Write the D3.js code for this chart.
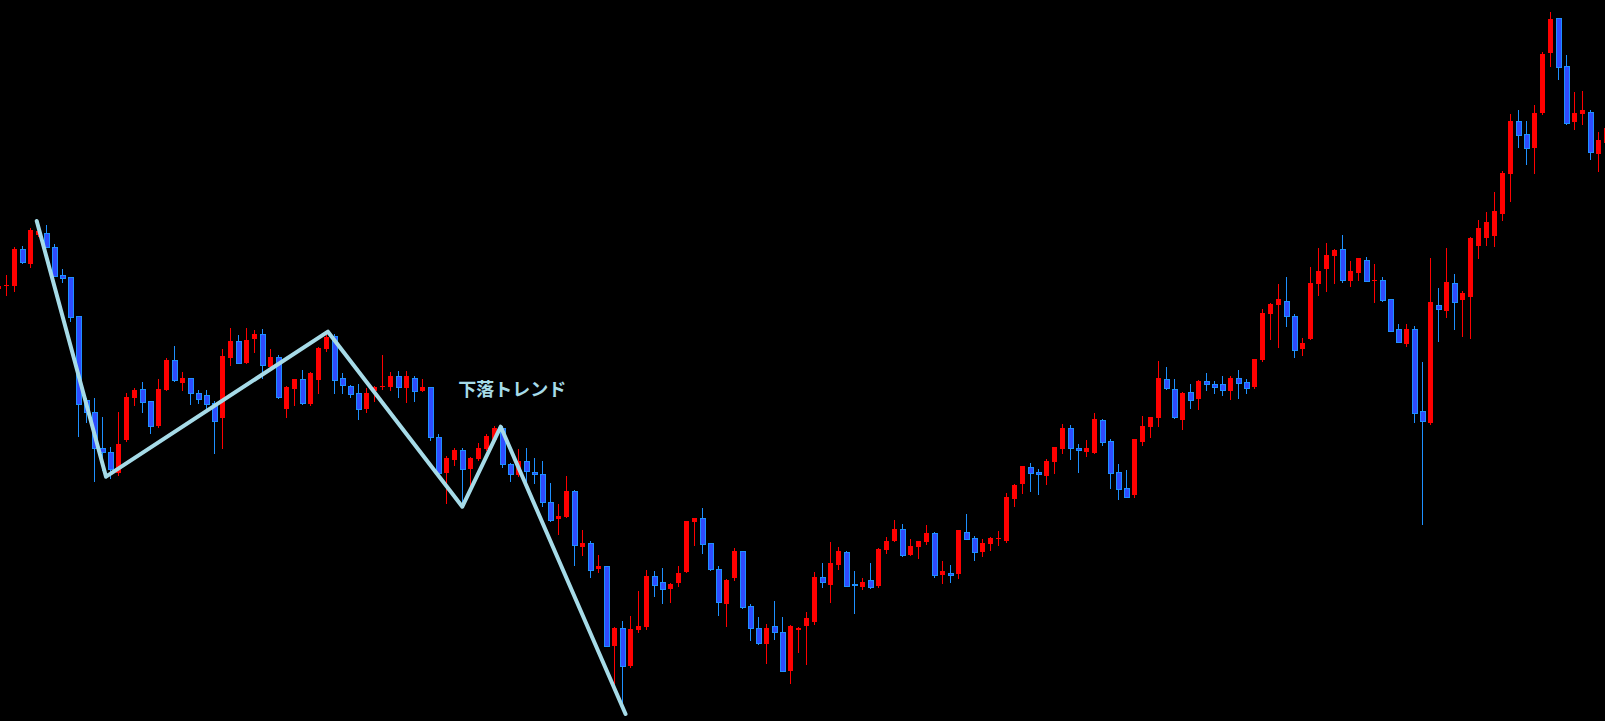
<!DOCTYPE html>
<html>
<head>
<meta charset="utf-8">
<script src="https://cdn.jsdelivr.net/npm/d3@7/dist/d3.min.js"></script>
<style>
html,body{margin:0;padding:0;background:#000;overflow:hidden;}
svg{display:block;}
</style>
</head>
<body>
<svg id="chart" width="1605" height="721"></svg>
<script>
// Bar index of first value in arrays below
const startIndex = -1;
const opens = [711,714,714.3,751,736.3,765,766.7,752.7,725,722.7,683.7,600,587.7,551.7,547.7,527.3,560,601.7,610.7,599,574,610,639.7,617.3,621.7,607,604.7,596.7,582.3,642.3,658.7,637.3,661.3,666,633.3,642.7,591,610.7,620.7,596,620.3,651.3,664.3,621.7,613.7,606.7,591,609.3,613,612.7,623.7,612.3,621.7,609.3,612.7,562.7,527.3,540,550,530.7,541,551,560,571.7,535.7,525.3,538.7,527.7,525.7,497.7,481,483.3,509,453,456.7,431,433.7,354.3,371.7,334.3,370,373,424,417.7,411.3,417,428.3,478.3,481.7,456.7,430.7,396.3,422.3,448.7,393.7,371.7,356.3,373.7,367.7,329.3,370.3,374,378,422.7,415.3,434.7,447.7,415.7,412.7,419.7,414.3,450.3,459.3,470.7,445.3,453.3,458.3,466.7,425.3,427,426.3,468,462,448.3,456.3,461.7,459,500.7,516.3,532.7,528,524.3,538.3,551.3,571.7,551.7,547.7,547.3,579.7,558.7,528,511.7,505,558.3,573.3,582,621,611,580.3,607.7,601.3,619,615.7,615.7,609.3,622,618,613.3,640,686.3,695.3,699,684,651.3,661,716,731.3,744,750.7,719.3,727.3,739.7,719.3,719.7,700.7,670.7,656,670.7,588.7,577.3,695,689.3,717,700.3,703.3,754,762,764,786.3,826.3,879,865.7,852.3,887,947,981.7,933.7,878.3,886.3,887.7,846.3,857.3];
const highs = [716,725,753,754,772,772,775,756,731,723,684,602,602,583,553,588,607,612,618,599,621,641.7,654,628,622,610,610,599.3,651,672,665,672,670,671,651,645,614,621,629.7,628.3,653,669,666,626.7,615,616,612,614,645,628.3,629,629,624,620.7,613,566,544,552.3,552.3,543,556.7,565.7,574,574,537,550.7,551.7,541.7,538.7,516.7,496,524,510,470,459,445,434,373,379,384,409,430,429,432,417,434,479,482,492,457,434,421,452,449,396,383.3,376,399,383,375,373,388,428.3,437,458,453,449,429,422,437,452,463,480,476,461,459,475,468,439,435,470,486,464,460.7,463.3,469,506.7,516,534,536.7,530.7,540.7,553,576,575,556,559.7,587,581,561,536,530,561,584,583,639,633,621,608,616,620.3,627,619,624,624,630,621,641,691,697,715.7,723,685.7,662,733,752,757,751,765,739,742,743,736,723,701,676,676,674,638,742,712,752,726,709.3,763,780,788,808,829,886,890,879,895,948,988,982,945,908,909,890,868,875];
const lows = [709,705,709,737.3,733.3,764,753,724,718,679.3,564.3,578,519.3,530,522,525,559,595,588.3,567.3,573,610,619,610,596,597.3,590,547.3,552.3,635,637,637,648.3,621.7,633,602,582.7,595,596,595,607.3,648.7,607.3,606.7,603.3,581.3,588.3,599.3,610.7,610,603.3,598.3,599.3,609,560,525,496.7,535,497,513.3,540,550,559,533.3,519.3,524,518.3,517.3,494,479,466,483,435,445,423.3,428.3,354,316.7,298.3,333,368.3,371,404.3,397.3,398.3,414.3,428,455,446.7,430,385,374.3,420,392,360,356,337.3,361,329,316.7,348.3,336,376,413.3,398.3,431.3,414,386.7,411.3,412,412.7,447.3,459,444,445,442.3,456.3,423.3,417,418,422,461,440.3,444.3,450.3,455,458.3,494.3,507.3,509.3,506.3,516.3,527.3,547.3,541,528.3,544.3,546.5,555,512.3,501.3,503,503.3,555,563.3,574.3,611.5,582,571.3,592.3,591.3,610.3,607.3,605,601.3,602.3,607.3,612.3,639.3,661.3,653.3,674.3,643.3,645.3,661,705.3,709.3,717.3,718.3,714.3,720,719,698,699,669,658,654,578.3,476,576,659.3,683.3,671.3,664.3,662.3,742,755,754,780,799,853.3,836.3,827.3,886.3,934.3,921.3,876,871,876.3,841.3,829,850];
const closes = [714,715,751,738.3,770,769,753.3,724.3,722.3,683.3,596.3,588,551.7,547.7,530.7,555.7,603,610,598.3,574.3,611,640,620,622,607.3,601.3,596.3,579.3,644,659,637.3,660,666,634.7,643.3,602.7,612.7,620.7,596.7,627,652,662.7,620.3,615.3,606.3,591.3,606.7,612.7,613.7,624,612.7,624,609.3,612.7,562.7,526.7,542.3,550,530.7,542.3,552.3,564,572,535.7,525.7,539,529.3,525.7,497.7,480,484,509,455.3,457,430.3,434.3,354.3,372,334.3,371,374,424,415.3,411.3,416,426.7,479,482,456.3,430.7,398.3,420,449,392.7,371.7,356.7,372.3,368.3,329.3,374,372,382,423,417.7,437,449,414.3,414.7,418,412.7,451,459,471,444.7,453.7,458.7,467,425.3,428.7,425.3,470,461.3,448.3,456.7,462,462.3,502.7,514.7,534,527.3,525.7,539,552.7,572,551.7,549.7,551.7,581,558.3,527.3,511.3,503.3,561,574,583,622,612.3,582.7,607,599.7,619,615.7,613.3,609.7,622,617.3,612.3,641,687,696,701,684.3,650.3,657,717,729,745,750,719.7,729,742,719.3,720,700,669.3,658.3,671,587.3,579.3,698,691,718,698.3,707,762,772,778,789,827,879,865.3,852.3,887,946,981,933.3,876.7,887,890,848.3,860,872];

// Price range shown on the chart
const priceRange = [279, 1000];
// Hand-drawn trend line: [bar index, price]
const trendIdx = [3.8, 12.46, 40.2, 57.0, 61.8, 77.4];
const trendPrice = [779, 523.3, 668.3, 493.3, 573.3, 286];
// Annotation
const labelText = ["下落トレンド"];
const labelIdx = [56.5];
const labelPrice = [604];

const W = 1605, H = 721;
const svg = d3.select("#chart");
svg.append("rect").attr("width", W).attr("height", H).attr("fill", "#000");

const n = opens.length;
const data = d3.range(n).map(i => ({
  i: startIndex + i, o: opens[i], h: highs[i], l: lows[i], c: closes[i]
}));

const x = d3.scaleLinear().domain([-1, 200]).range([-1.67, 1606.33]);
const y = d3.scaleLinear().domain(priceRange).range([H, 0]);

const BULL = "#ff0000", BEAR_FILL = "#2f4cff", BEAR_EDGE = "#1e90ff";
const bw = 5;

const g = svg.append("g").attr("shape-rendering", "crispEdges");
const cx = d => Math.round(x(d.i)) + 0.5;

g.selectAll("line.wick").data(data).join("line")
  .attr("class", "wick")
  .attr("x1", cx).attr("x2", cx)
  .attr("y1", d => Math.round(y(d.h)))
  .attr("y2", d => Math.round(y(d.l)) + 1)
  .attr("stroke", d => d.c >= d.o ? BULL : BEAR_EDGE)
  .attr("stroke-width", 1);

g.selectAll("rect.body").data(data).join("rect")
  .attr("class", "body")
  .attr("x", d => Math.round(x(d.i)) - 2)
  .attr("width", bw)
  .attr("y", d => Math.round(y(Math.max(d.o, d.c))))
  .attr("height", d => Math.max(1, Math.round(y(Math.min(d.o, d.c))) - Math.round(y(Math.max(d.o, d.c)))))
  .attr("fill", d => d.c >= d.o ? BULL : BEAR_FILL)
  .attr("stroke", d => d.c >= d.o ? "none" : BEAR_EDGE)
  .attr("stroke-width", 1);

// trend line
const pts = trendIdx.map((t, i) => [t, trendPrice[i]]);
svg.append("path")
  .datum(pts)
  .attr("d", d3.line().x(d => x(d[0])).y(d => y(d[1])))
  .attr("fill", "none")
  .attr("stroke", "#a6dbe8")
  .attr("stroke-width", 4)
  .attr("stroke-linejoin", "round")
  .attr("stroke-linecap", "round");

svg.selectAll("text.label").data(labelText).join("text")
  .attr("class", "label")
  .attr("x", (d, i) => x(labelIdx[i]))
  .attr("y", (d, i) => y(labelPrice[i]))
  .attr("fill", "#a6dbe8")
  .attr("font-family", "'Noto Sans CJK JP', sans-serif")
  .attr("font-weight", "bold")
  .attr("font-size", 18)
  .text(d => d);
</script>
</body>
</html>
